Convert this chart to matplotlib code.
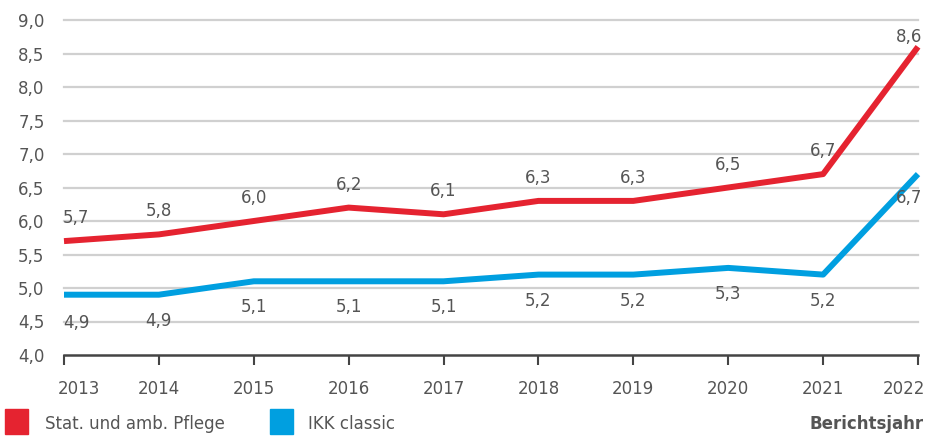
import matplotlib.pyplot as plt
from matplotlib.patches import Rectangle
import matplotlib.transforms as mtransforms

years = [2013, 2014, 2015, 2016, 2017, 2018, 2019, 2020, 2021, 2022]
pflege = [5.7, 5.8, 6.0, 6.2, 6.1, 6.3, 6.3, 6.5, 6.7, 8.6]
ikk = [4.9, 4.9, 5.1, 5.1, 5.1, 5.2, 5.2, 5.3, 5.2, 6.7]
yticks = [4.0, 4.5, 5.0, 5.5, 6.0, 6.5, 7.0, 7.5, 8.0, 8.5, 9.0]

red = '#e52330'
blue = '#009fe0'
grey = '#555555'
fs = 12

plt.rcParams['font.family'] = ['DejaVu Sans']

fig = plt.figure(figsize=(9.35, 4.37), dpi=100)
ax = fig.add_axes([64 / 935, 82 / 437, 854 / 935, 335 / 437])

for y in yticks[1:]:
    ax.axhline(y, color='#d0d0d0', lw=1.6, zorder=1, clip_on=False)

ax.plot(years, pflege, color=red, lw=4.3, solid_capstyle='butt', zorder=3, clip_on=False)
ax.plot(years, ikk, color=blue, lw=4.3, solid_capstyle='butt', zorder=3, clip_on=False)

fmt = lambda v: f'{v:.1f}'.replace('.', ',')
px = 0.72  # points per pixel at dpi 100

# label offsets in pixels (dx right, dy up)
for i, (x, v) in enumerate(zip(years, pflege)):
    off = (0, 23)
    if i == 0:
        off = (12, 23)
    if i == 9:
        off = (-9, 10)
    ax.annotate(fmt(v), (x, v), xytext=(off[0] * px, off[1] * px), textcoords='offset points',
                ha='center', va='center', fontsize=fs, color=grey, zorder=4, annotation_clip=False)
for i, (x, v) in enumerate(zip(years, ikk)):
    off = (0, -26)
    if i == 0:
        off = (12, -28)
    if i == 9:
        off = (-9, -24)
    ax.annotate(fmt(v), (x, v), xytext=(off[0] * px, off[1] * px), textcoords='offset points',
                ha='center', va='center', fontsize=fs, color=grey, zorder=4, annotation_clip=False)

ax.set_xlim(2013, 2022)
ax.set_ylim(4.0, 9.0)
ax.set_yticks(yticks)
ax.set_yticklabels([fmt(v) for v in yticks])
ax.set_xticks(years)
ax.set_xticklabels([str(y) for y in years])
for s in ['top', 'right', 'left']:
    ax.spines[s].set_visible(False)
ax.spines['bottom'].set_color('#444444')
ax.spines['bottom'].set_linewidth(1.8)
ax.tick_params(axis='y', length=0, pad=14, labelsize=fs, labelcolor=grey)
ax.tick_params(axis='x', length=7, width=1.5, color='#444444', direction='out',
               pad=11, labelsize=fs, labelcolor=grey)

# shift edge tick labels inward
xl = ax.get_xticklabels()
xl[0].set_transform(xl[0].get_transform() + mtransforms.ScaledTranslation(15 / 100, 0, fig.dpi_scale_trans))
xl[-1].set_transform(xl[-1].get_transform() + mtransforms.ScaledTranslation(-14 / 100, 0, fig.dpi_scale_trans))

# legend
fig.patches.append(Rectangle((5 / 935, 3 / 437), 23 / 935, 25 / 437, transform=fig.transFigure,
                             color=red))
fig.text(45 / 935, 13 / 437, 'Stat. und amb. Pflege', fontsize=fs, color=grey, va='center')
fig.patches.append(Rectangle((270 / 935, 3 / 437), 23 / 935, 25 / 437, transform=fig.transFigure,
                             color=blue))
fig.text(308 / 935, 13 / 437, 'IKK classic', fontsize=fs, color=grey, va='center')
fig.text(924 / 935, 13 / 437, 'Berichtsjahr', fontsize=fs, color=grey, va='center',
         ha='right', fontweight='bold')

fig.savefig('out.png', dpi=100)
